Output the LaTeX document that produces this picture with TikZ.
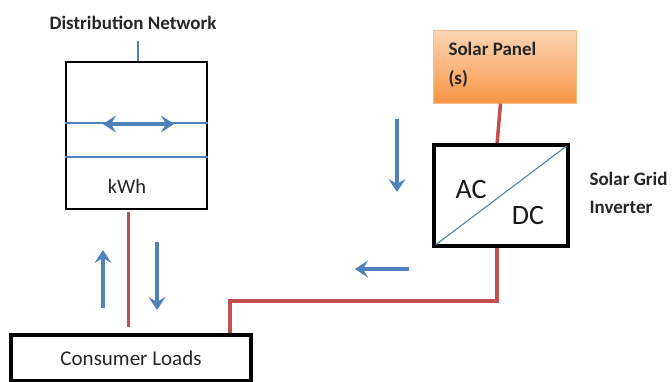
\documentclass[tikz,border=0pt]{standalone}
\usepackage{fontspec}
\setmainfont{Carlito}
\usetikzlibrary{arrows.meta,calc}
\definecolor{flowblue}{HTML}{4F81BD}
\definecolor{wirered}{HTML}{C0504D}
\definecolor{paneltop}{HTML}{FCD5B5}
\definecolor{panelbot}{HTML}{F79646}
\definecolor{panelborder}{HTML}{F9B98A}
\tikzset{
  box/.style={draw=black, line width=2.6pt, fill=white, inner sep=0pt},
  wire/.style={draw=wirered, line width=3.5pt},
  thinblue/.style={draw=flowblue, line width=1.3pt},
  flowtip/.tip={Stealth[length=13pt,width=17pt,inset=5pt]},
  flow/.style={draw=flowblue, line width=3.2pt, -flowtip},
  flowboth/.style={draw=flowblue, line width=3.2pt, flowtip-flowtip},
  lbl/.style={font=\fontsize{19}{22}\selectfont\bfseries, text=black!85},
}
\begin{document}
\begin{tikzpicture}[x=1pt,y=-1pt]
\useasboundingbox (0,0) rectangle (672,381);
% nodes
\node[box, minimum width=141pt, minimum height=147pt] (meter) at (136.5,135.5) {};
\node[box, minimum width=238pt, minimum height=45pt, font=\fontsize{21}{24}\selectfont, text=black!85] (loads) at (131,358) {Consumer Loads};
\node[box, minimum width=132pt, minimum height=99pt] (inv) at (501,195.5) {};
\node[draw=panelborder, line width=1pt, top color=paneltop, bottom color=panelbot, minimum width=143pt, minimum height=73pt, inner sep=0pt] (panel) at (504.5,66.5) {};
\node[lbl, anchor=west, align=left] (paneltxt) at (445,64.5) {Solar Panel\\[7pt](s)};
\node[lbl] (disttxt) at (133,23) {Distribution Network};
\node[lbl, anchor=west, align=left] (invtxt) at (586,193) {Solar Grid\\[6pt]Inverter};
\node[font=\fontsize{20.5}{24}\selectfont, text=black!85] (kwh) at (127,186) {kWh};
\node[font=\fontsize{28}{32}\selectfont, text=black!90] (ac) at (471,190) {AC};
\node[font=\fontsize{28}{32}\selectfont, text=black!90] (dc) at (528,216) {DC};
% meter internals
\coordinate (m1w) at (meter.west |- 0,123);
\coordinate (m1e) at (meter.east |- 0,123);
\coordinate (m2w) at (meter.west |- 0,157);
\coordinate (m2e) at (meter.east |- 0,157);
\draw[thinblue] (m1w) -- (m1e);
\draw[thinblue] (m2w) -- (m2e);
\coordinate (da) at (103,124);
\coordinate (db) at (174,124);
\draw[flowboth] (da) -- (db);
% distribution line
\coordinate (distend) at (137.5,41);
\draw[thinblue, line width=2pt] (distend) -- (distend |- meter.north);
% inverter diagonal
\draw[thinblue, line width=1.1pt] (inv.south west) -- (inv.north east);
% wires
\draw[wire] ([xshift=-4pt]panel.south) -- ([xshift=-4pt]inv.north);
\coordinate (meterout) at ([xshift=-8.5pt]meter.south);
\draw[wire, line width=3pt, shorten <=1.3pt, shorten >=7pt] (meterout) -- (meterout |- loads.north);
\coordinate (bend) at (230,301);
\draw[wire, line join=miter] ([xshift=-4pt]inv.south) |- (bend) -- (bend |- loads.north);
% redraw box borders over wires
\draw[draw=black, line width=2.6pt] (inv.south west) rectangle (inv.north east);
\draw[draw=black, line width=2.6pt] (loads.south west) rectangle (loads.north east);
% flow arrows
\coordinate (u1) at (103,308); \coordinate (u2) at (103,250);
\draw[flow] (u1) -- (u2);
\coordinate (d1) at (157,242); \coordinate (d2) at (157,310);
\draw[flow] (d1) -- (d2);
\coordinate (l1) at (409,269); \coordinate (l2) at (355,269);
\draw[flow] (l1) -- (l2);
\coordinate (s1) at (397,119); \coordinate (s2) at (397,192);
\draw[flow] (s1) -- (s2);
\end{tikzpicture}
\end{document}
